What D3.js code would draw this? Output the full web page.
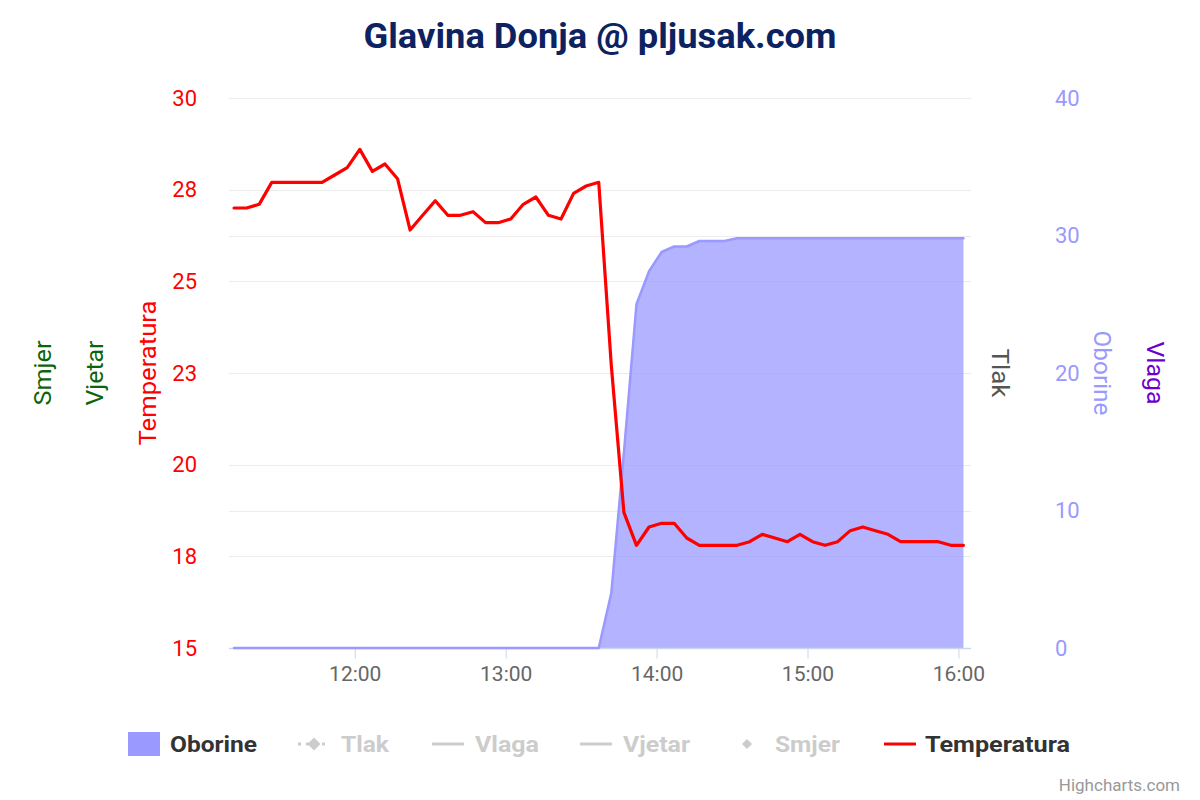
<!DOCTYPE html>
<html>
<head>
<meta charset="utf-8">
<script src="https://cdn.jsdelivr.net/npm/d3@7"></script>
<style>
  html, body { margin: 0; padding: 0; background: #fff; }
  svg { display: block; font-family: Roboto, "Noto Sans", sans-serif; }
</style>
</head>
<body>
<svg id="chart" width="1200" height="800"></svg>
<script>
// ---------------- data ----------------
const times = ["11:12","11:17","11:22","11:27","11:32","11:37","11:42","11:47","11:52","11:57",
  "12:02","12:07","12:12","12:17","12:22","12:27","12:32","12:37","12:42","12:47",
  "12:52","12:57","13:02","13:07","13:12","13:17","13:22","13:27","13:32","13:37",
  "13:42","13:47","13:52","13:57","14:02","14:07","14:12","14:17","14:22","14:27",
  "14:32","14:37","14:42","14:47","14:52","14:57","15:02","15:07","15:12","15:17",
  "15:22","15:27","15:32","15:37","15:42","15:47","15:52","15:57","16:02"];
const temperatura = [27.0,27.0,27.1,27.7,27.7,27.7,27.7,27.7,27.9,28.1,
  28.6,28.0,28.2,27.8,26.4,26.8,27.2,26.8,26.8,26.9,
  26.6,26.6,26.7,27.1,27.3,26.8,26.7,27.4,27.6,27.7,
  22.7,18.7,17.8,18.3,18.4,18.4,18.0,17.8,17.8,17.8,
  17.8,17.9,18.1,18.0,17.9,18.1,17.9,17.8,17.9,18.2,
  18.3,18.2,18.1,17.9,17.9,17.9,17.9,17.8,17.8];
const oborine = [0,0,0,0,0,0,0,0,0,0,
  0,0,0,0,0,0,0,0,0,0,
  0,0,0,0,0,0,0,0,0,0,
  4.0,14.2,25.0,27.4,28.8,29.2,29.2,29.6,29.6,29.6,
  29.8,29.8,29.8,29.8,29.8,29.8,29.8,29.8,29.8,29.8,
  29.8,29.8,29.8,29.8,29.8,29.8,29.8,29.8,29.8];
const xDomain = ["11:10","16:05"];
const xTickLabels = ["12:00","13:00","14:00","15:00","16:00"];
const tempTicks = [15,17.5,20,22.5,25,27.5,30];
const oborineTicks = [0,10,20,30,40];
const legendItems = ["Oborine","Tlak","Vlaga","Vjetar","Smjer","Temperatura"];

// ---------------- layout ----------------
const svg = d3.select("#chart");
const L = 229, R = 971, T = 98, B = 648;
const parse = s => { const [h,m] = s.split(":").map(Number); return new Date(2020,0,1,h,m); };

const x = d3.scaleTime().domain(xDomain.map(parse)).range([L, R]);
const yT = d3.scaleLinear().domain([15,30]).range([B, T]);
const yP = d3.scaleLinear().domain([0,40]).range([B, T]);

// title
svg.append("text").attr("x", 600).attr("y", 48).attr("text-anchor","middle")
  .attr("font-size", 35).attr("font-weight", 700).attr("fill", "#0d2260")
  .attr("textLength", 473).attr("lengthAdjust","spacingAndGlyphs")
  .text("Glavina Donja @ pljusak.com");

// gridlines
const grid = svg.append("g").attr("stroke", "#ececec").attr("stroke-width", 1);
tempTicks.forEach(v => grid.append("line").attr("x1", L).attr("x2", R)
  .attr("y1", Math.round(yT(v)) + 0.5).attr("y2", Math.round(yT(v)) + 0.5));
oborineTicks.forEach(v => grid.append("line").attr("x1", L).attr("x2", R)
  .attr("y1", Math.round(yP(v)) + 0.5).attr("y2", Math.round(yP(v)) + 0.5));

// left axis (Temperatura)
const gL = svg.append("g").attr("transform", `translate(${L},0)`)
  .call(d3.axisLeft(yT).tickValues(tempTicks).tickFormat(d => d.toFixed(0)).tickSize(0).tickPadding(32));
gL.select(".domain").remove();
gL.selectAll("text").attr("fill", "#ff0000").attr("font-size", 22).attr("font-family", "Roboto, sans-serif");

// right axis (Oborine)
const gR = svg.append("g").attr("transform", `translate(${R},0)`)
  .call(d3.axisRight(yP).tickValues(oborineTicks).tickSize(0).tickPadding(84));
gR.select(".domain").remove();
gR.selectAll("text").attr("fill", "#9999ff").attr("font-size", 22).attr("font-family", "Roboto, sans-serif");

// axis titles
function vTitle(txt, cx, color, rot, len) {
  svg.append("text").attr("transform", `translate(${cx},373) rotate(${rot})`)
    .attr("text-anchor", "middle").attr("dy", "0.35em")
    .attr("font-size", 23).attr("fill", color)
    .attr("textLength", len).attr("lengthAdjust", "spacingAndGlyphs").text(txt);
}
vTitle("Temperatura", 148, "#ff0000", -90, 145);
vTitle("Vjetar", 95, "#0b650b", -90, 65);
vTitle("Smjer", 43, "#0b650b", -90, 65);
vTitle("Tlak", 1000, "#555555", 90, 49);
vTitle("Oborine", 1102, "#9999ff", 90, 85);
vTitle("Vlaga", 1155, "#6a00cc", 90, 63);

// series: Oborine area
const pts = times.map((t, i) => ({ t: parse(t), p: oborine[i], v: temperatura[i] }));
svg.append("path").datum(pts)
  .attr("d", d3.area().x(d => x(d.t)).y0(B).y1(d => yP(d.p)))
  .attr("fill", "#9999ff").attr("fill-opacity", 0.75);

// x axis
const gX = svg.append("g").attr("transform", `translate(0,${B + 0.5})`)
  .call(d3.axisBottom(x).tickValues(xTickLabels.map(parse)).tickFormat(d3.timeFormat("%H:%M")).tickSize(10).tickPadding(8));
gX.select(".domain").attr("d", `M${L},0H${R}`).attr("stroke", "#ccd6eb").attr("stroke-width", 1.5);
gX.selectAll(".tick line").attr("stroke", "#ccd6eb");
gX.selectAll("text").attr("fill", "#666666").attr("font-size", 21).attr("font-family", "Roboto, sans-serif");

// area outline
svg.append("path").datum(pts)
  .attr("d", d3.line().x(d => x(d.t)).y(d => yP(d.p)))
  .attr("fill", "none").attr("stroke", "#9999ff").attr("stroke-width", 2.5)
  .attr("stroke-linejoin", "round").attr("stroke-linecap", "round");

// Temperatura line
svg.append("path").datum(pts)
  .attr("d", d3.line().x(d => x(d.t)).y(d => yT(d.v)))
  .attr("fill", "none").attr("stroke", "#ff0000").attr("stroke-width", 3.2)
  .attr("stroke-linejoin", "round").attr("stroke-linecap", "round");

// legend
const LY = 744;
const lg = svg.append("g");
const hidden = "#cccccc";
const legendLayout = [
  { tx: 170, tw: 87, color: "#333333" },
  { tx: 341, tw: 48, color: hidden },
  { tx: 475, tw: 64, color: hidden },
  { tx: 623, tw: 67, color: hidden },
  { tx: 775, tw: 65, color: hidden },
  { tx: 925, tw: 145, color: "#333333" }
];
const diamond = r => `M0,${-r}L${r},0L0,${r}L${-r},0Z`;
// Oborine swatch
lg.append("rect").attr("x", 128).attr("y", LY - 12).attr("width", 32).attr("height", 24).attr("fill", "#9999ff");
// Tlak: dotted line + diamond
lg.append("line").attr("x1", 298).attr("x2", 330).attr("y1", LY).attr("y2", LY)
  .attr("stroke", hidden).attr("stroke-width", 3).attr("stroke-dasharray", "3,5");
lg.append("path").attr("d", diamond(6.5)).attr("transform", `translate(314,${LY})`).attr("fill", hidden);
// Vlaga, Vjetar lines
[432, 580].forEach(sx => lg.append("line").attr("x1", sx).attr("x2", sx + 32).attr("y1", LY).attr("y2", LY)
  .attr("stroke", hidden).attr("stroke-width", 3));
// Smjer diamond
lg.append("path").attr("d", diamond(5)).attr("transform", `translate(747,${LY})`).attr("fill", hidden);
// Temperatura line
lg.append("line").attr("x1", 884).attr("x2", 916).attr("y1", LY).attr("y2", LY)
  .attr("stroke", "#ff0000").attr("stroke-width", 3);
legendItems.forEach((name, i) => {
  const o = legendLayout[i];
  lg.append("text").attr("x", o.tx).attr("y", LY + 8).attr("font-size", 22).attr("font-weight", 700)
    .attr("fill", o.color).attr("textLength", o.tw).attr("lengthAdjust", "spacingAndGlyphs").text(name);
});

// credits
svg.append("text").attr("x", 1180).attr("y", 791).attr("text-anchor", "end")
  .attr("font-size", 17).attr("fill", "#999999").text("Highcharts.com");
</script>
</body>
</html>
